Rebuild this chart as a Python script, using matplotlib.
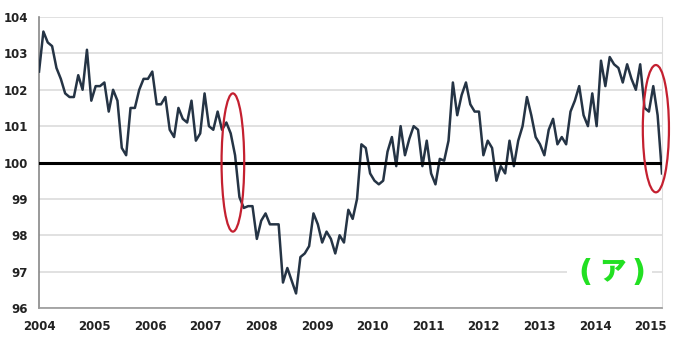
import numpy as np
import matplotlib.pyplot as plt
from matplotlib.patches import Ellipse, Rectangle

# values, one per point, left to right
valores = [102.5, 103.6, 103.3, 103.2, 102.6, 102.3, 101.9, 101.8, 101.8, 102.4, 102.0, 103.1,
           101.7, 102.1, 102.1, 102.2, 101.4, 102.0, 101.7, 100.4, 100.2, 101.5, 101.5, 102.0,
           102.3, 102.3, 102.5, 101.6, 101.6, 101.8, 100.9, 100.7, 101.5, 101.2, 101.1, 101.7,
           100.6, 100.8, 101.9, 101.0, 100.9, 101.4, 100.9, 101.1, 100.8, 100.2, 99.05, 98.75,
           98.8, 98.8, 97.9, 98.4, 98.6, 98.3, 98.3, 98.3, 96.7, 97.1, 96.75, 96.4,
           97.4, 97.5, 97.7, 98.6, 98.3, 97.8, 98.1, 97.9, 97.5, 98.0, 97.8, 98.7,
           98.45, 99.0, 100.5, 100.4, 99.7, 99.5, 99.4, 99.5, 100.3, 100.7, 99.9, 101.0,
           100.2, 100.65, 101.0, 100.9, 99.9, 100.6, 99.7, 99.4, 100.1, 100.05, 100.6, 102.2,
           101.3, 101.85, 102.2, 101.6, 101.4, 101.4, 100.2, 100.6, 100.4, 99.5, 99.9, 99.7,
           100.6, 99.9, 100.6, 101.0, 101.8, 101.3, 100.7, 100.5, 100.2, 100.9, 101.2, 100.5,
           100.7, 100.5, 101.4, 101.7, 102.1, 101.3, 101.0, 101.9, 101.0, 102.8, 102.1, 102.9,
           102.7, 102.6, 102.2, 102.7, 102.3, 102.0, 102.7, 101.5, 101.4, 102.1, 101.3, 99.7]

anos = [2004, 2005, 2006, 2007, 2008, 2009, 2010, 2011, 2012, 2013, 2014, 2015]
yticks = [96, 97, 98, 99, 100, 101, 102, 103, 104]

# about 12.76 points per year label in the original axis
passo = 11 / 140.4
x = 2004 + np.arange(len(valores)) * passo

fig = plt.figure(figsize=(6.8, 3.53), dpi=100)
ax = fig.add_axes([0.0574, 0.1275, 0.9161, 0.8243])

ax.grid(axis='y', color='#d9d9d9', lw=1.1)
ax.set_axisbelow(True)
ax.plot(x, valores, color='#253445', lw=1.8, zorder=3)
ax.axhline(100, color='black', lw=2.2, zorder=4)

ax.set_xlim(x[0], x[-1])
ax.set_ylim(96, 104)
ax.set_xticks(anos)
ax.set_yticks(yticks)
ax.tick_params(length=0, labelsize=8.5, labelcolor='#222222')
ax.tick_params(axis='x', pad=9)
ax.tick_params(axis='y', pad=8)
for lab in ax.get_xticklabels() + ax.get_yticklabels():
    lab.set_fontweight('bold')

ax.spines['top'].set_visible(False)
ax.spines['right'].set_color('#dddddd')
ax.spines['left'].set_color('#888888')
ax.spines['bottom'].set_color('#999999')
ax.spines['left'].set_linewidth(1.2)
ax.spines['bottom'].set_linewidth(1.2)

# red circles marking the drops
e1 = Ellipse((2004 + 44.5 * passo, 100.0), 5.2 * passo, 3.8,
             fill=False, color='#c42030', lw=1.6, zorder=5, clip_on=False)
e2 = Ellipse((2004 + 141.6 * passo, 100.93), 6.0 * passo, 3.5,
             fill=False, color='#c42030', lw=1.6, zorder=5, clip_on=False)
ax.add_patch(e1)
ax.add_patch(e2)

# green label (ア) on a white patch that hides the grid line
ax.add_patch(Rectangle((2013.5, 96.62), 1.53, 0.76, facecolor='white',
                       edgecolor='none', zorder=5))
verde = '#22e022'
ax.text(2013.83, 96.98, '(', color=verde, fontsize=22, fontweight='bold',
        family='DejaVu Sans', ha='center', va='center', zorder=6)
ax.text(2014.79, 96.98, ')', color=verde, fontsize=22, fontweight='bold',
        family='DejaVu Sans', ha='center', va='center', zorder=6)
ax.text(2014.31, 96.98, 'ア', color=verde, fontsize=19, fontweight='heavy',
        family=['Noto Sans CJK JP', 'DejaVu Sans'], ha='center', va='center', zorder=6)

plt.savefig('out.png')
